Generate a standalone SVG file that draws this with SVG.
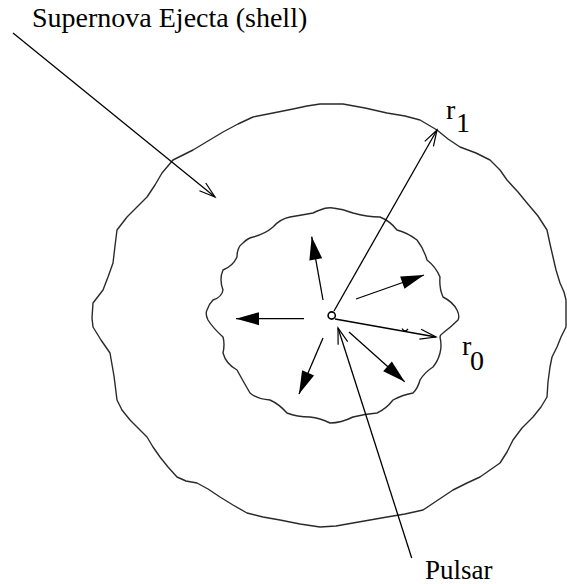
<svg xmlns="http://www.w3.org/2000/svg" width="567" height="584" viewBox="0 0 567 584">
<style>
.shell{fill:none;stroke:#2a2a2a;stroke-width:1.4;stroke-linejoin:round}
.ln{fill:none;stroke:#000;stroke-width:1.3}
</style>
<defs>
<marker id="solid" markerUnits="userSpaceOnUse" markerWidth="23" markerHeight="13" viewBox="0 0 23 13" refX="23" refY="6.5" orient="auto" overflow="visible">
<path d="M0,0 L23,6.5 L0,13 Z" fill="#000"/>
</marker>
<marker id="open" markerUnits="userSpaceOnUse" markerWidth="16" markerHeight="10" viewBox="0 0 16 10" refX="16" refY="5" orient="auto" overflow="visible">
<path d="M0,0 L16,5 L0,10" fill="none" stroke="#000" stroke-width="1.2"/>
</marker>
</defs>
<rect width="567" height="584" fill="#fff"/>
<g id="outer-shell">
<path class="shell" d="M320,104 L343,104 L365,108 L387,113 L405,116 L420,120 L437,130 L448,139 L460,147 L476,153 L490,160 L500,170 L507,180 L518,192 L527,203 L538,216 L547,230 L550,244 L553,257 L556,270 L560,283 L564,292 L566,300 L566,314 L566,327 L561,337 L557,347 L552,357 L550,367 L548,382 L547,397 L541,407 L533,417 L522,428 L513,440 L507,452 L500,463 L490,470 L480,477 L467,483 L453,490 L438,500 L423,510 L405,514 L387,517 L370,520 L353,523 L336,526 L320,527 L300,524 L280,520 L263,517 L247,513 L233,505 L220,497 L208,489 L197,483 L186,481 L177,477 L168,467 L160,457 L153,447 L147,437 L138,428 L130,420 L122,410 L117,400 L114,376 L110,353 L101,340 L93,327 L92,318 L93,303 L103,290 L108,277 L113,263 L115,246 L117,230 L127,217 L137,207 L147,197 L155,185 L162,173 L173,160 L183,155 L193,150 L208,141 L223,132 L238,124 L253,117 L273,113 L293,109 L307,106 Z"/>
</g>
<g id="inner-shell">
<path class="shell" d="M320,210 Q327,207 333,208 Q343,209 353,213 Q367,217 380,217 Q390,221 397,230 Q408,233 417,240 Q424,249 427,260 Q436,267 440,277 Q439,288 443,297 Q453,302 457,310 Q460,316 458,320 Q451,327 443,333 Q440,335 440,337 Q442,346 440,353 Q438,361 433,367 Q425,372 420,380 Q418,388 413,393 Q402,395 393,400 Q386,409 377,413 Q365,414 353,417 Q341,423 330,423 Q320,418 310,417 Q297,417 287,413 Q279,404 270,400 Q257,399 250,393 Q243,381 237,370 Q226,364 223,353 Q225,344 223,337 Q213,328 208,320 Q205,314 207,310 Q209,304 213,300 Q222,297 223,290 Q219,279 223,270 Q233,266 237,257 Q237,247 243,243 Q248,238 253,237 Q265,234 273,227 Q280,219 290,217 Q302,215 313,213 Q317,211 320,210 Z"/>
</g>
<g id="pulsar">
<circle cx="331.7" cy="315.5" r="3.6" fill="#fff" stroke="#000" stroke-width="1.6"/>
</g>
<g id="connectors">
<line class="ln" x1="323" y1="300" x2="311.7" y2="236.7" marker-end="url(#solid)"/>
<line class="ln" x1="356" y1="299" x2="424" y2="275" marker-end="url(#solid)"/>
<line class="ln" x1="304" y1="318.7" x2="236" y2="318.7" marker-end="url(#solid)"/>
<line class="ln" x1="323" y1="338" x2="299" y2="394" marker-end="url(#solid)"/>
<line class="ln" x1="349" y1="332" x2="404.7" y2="381.7" marker-end="url(#solid)"/>
<line class="ln" x1="335" y1="319" x2="436" y2="337" marker-end="url(#open)"/>
<path class="ln" d="M402,328.5 Q405,333 408,329" stroke-width="1"/>
<line class="ln" x1="334" y1="311" x2="437" y2="130" marker-end="url(#open)"/>
<line class="ln" x1="411.7" y1="558" x2="338" y2="328" marker-end="url(#open)"/>
<line class="ln" x1="13" y1="33" x2="215" y2="197" marker-end="url(#open)"/>
</g>
<g id="labels">
<text x="32" y="27" font-family="Liberation Serif" font-size="28" fill="#000">Supernova Ejecta (shell)</text>
<text x="446" y="119" font-family="Liberation Serif" font-size="28" fill="#000">r</text>
<text x="456" y="132" font-family="Liberation Serif" font-size="28" fill="#000">1</text>
<text x="462" y="355" font-family="Liberation Serif" font-size="28" fill="#000">r</text>
<text x="470" y="370" font-family="Liberation Serif" font-size="28" fill="#000">0</text>
<text x="425" y="579" font-family="Liberation Serif" font-size="27" fill="#000">Pulsar</text>
</g>
</svg>
